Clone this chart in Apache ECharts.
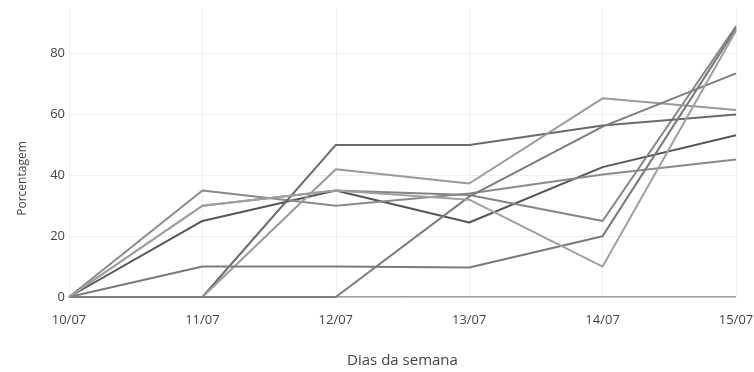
<!DOCTYPE html>
<html><head><meta charset="utf-8">
<script src="https://cdn.jsdelivr.net/npm/echarts@6/dist/echarts.min.js"></script>
<style>html,body{margin:0;padding:0;background:#fff}#c{width:754px;height:372px}</style>
</head><body><div id="c"></div>
<script>
var categories = ['10/07', '11/07', '12/07', '13/07', '14/07', '15/07'];
var yTicks = [0, 20, 40, 60, 80];
var seriesA = [0, 25, 35, 24.5, 42.7, 53.2];
var seriesB = [0, 35, 30, 34, 40.3, 45.2];
var seriesC = [0, 30, 35, 33.5, 25, 89];
var seriesE = [0, 0, 50, 50, 56.4, 60];
var seriesF = [0, 0, 42, 37.3, 65.3, 61.5];
var seriesH = [0, 10, 10, 9.7, 20, 88.3];
var seriesX = [0, 0, 0, 33, 56, 73.5];
var seriesY = [0, 30, 35, 32, 10, 87.5];
var allSeries = [
  {data: seriesA, color: '#555555'},
  {data: seriesB, color: '#8a8a8a'},
  {data: seriesC, color: '#858585'},
  {data: seriesE, color: '#6a6a6a'},
  {data: seriesF, color: '#9a9a9a'},
  {data: seriesH, color: '#7a7a7a'},
  {data: seriesX, color: '#7c7c7c'},
  {data: seriesY, color: '#a0a0a0'}
];
var font = '"Open Sans", sans-serif';
var chart = echarts.init(document.getElementById('c'), null, {renderer: 'canvas'});
chart.setOption({
  animation: false,
  backgroundColor: '#ffffff',
  grid: {left: 69, right: 18, top: 8, bottom: 75, containLabel: false, outerBoundsMode: 'none'},
  xAxis: {
    type: 'category', data: categories, boundaryGap: false,
    name: 'Dias da semana', nameLocation: 'middle', nameGap: 56,
    nameTextStyle: {color: '#444', fontSize: 15, fontFamily: font},
    axisLine: {show: false}, axisTick: {show: false},
    axisLabel: {color: '#444', fontSize: 13, fontFamily: font, margin: 17},
    splitLine: {show: true, lineStyle: {color: '#eeeeee', width: 1}}
  },
  yAxis: {
    type: 'value', min: 0, max: 95, interval: 20,
    name: 'Porcentagem', nameLocation: 'middle', nameGap: 40,
    nameTextStyle: {color: '#444', fontSize: 12, fontFamily: font, padding: [0, 52, 0, 0]},
    axisLine: {show: false}, axisTick: {show: false},
    axisLabel: {color: '#444', fontSize: 13, fontFamily: font, margin: 4,
      formatter: function (v) { return yTicks.indexOf(v) >= 0 ? String(v) : ''; }},
    splitLine: {show: true, lineStyle: {color: ['#eeeeee', '#eeeeee', '#eeeeee', '#eeeeee', '#eeeeee', 'rgba(0,0,0,0)'], width: 1}}
  },
  series: [{
    type: 'line', data: categories.map(function () { return 0; }), symbol: 'none', silent: true,
    lineStyle: {color: '#444444', width: 1}, z: 1
  }].concat(allSeries.map(function (s) {
    return {type: 'line', data: s.data, symbol: 'none', lineStyle: {color: s.color, width: 2}, z: 2};
  }))
});
</script></body></html>
